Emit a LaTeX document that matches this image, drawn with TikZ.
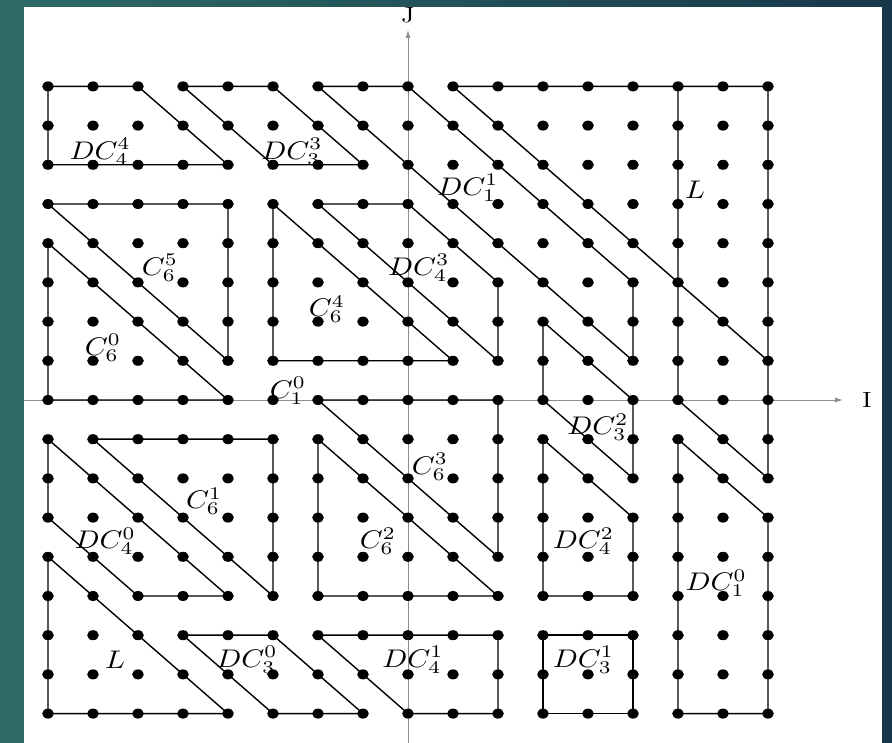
\documentclass[tikz,border=0pt]{standalone}
\usepackage{graphicx}
\usetikzlibrary{arrows.meta}
\definecolor{bgteal}{HTML}{2E6B66}
\definecolor{bgdark}{HTML}{17384A}
\definecolor{axisgray}{HTML}{8E8E8E}
\tikzset{
  tileline/.style={draw=black, line width=1.4pt, line join=round},
  axisline/.style={draw=axisgray, line width=0.9pt},
  lbl/.style={inner sep=0pt},
  axlbl/.style={inner sep=0pt},
  axtip/.style={-{Latex[length=8pt,width=5pt]}},
}
\newcommand{\sxx}[1]{\scalebox{2.927}[2.55]{#1}}
\newcommand{\sxa}[1]{\scalebox{2.53}[2.2]{#1}}
\begin{document}
\begin{tikzpicture}[x=45pt,y=39.2pt]
% background
\fill[left color=bgteal,right color=bgdark] (-9.0667,10.2041) rectangle (10.7556,-8.75);
\useasboundingbox (-9.0667,10.2041) rectangle (10.7556,-8.75);
\fill[white] (-8.5333,10.0255) rectangle (10.5333,-8.75);
% axes
\coordinate (xL) at (-8.5333,0);
\coordinate (xR) at (9.667,0);
\coordinate (yB) at (0,-8.75);
\coordinate (yT) at (0,9.44);
\draw[axisline,axtip] (xL) -- (xR);
\draw[axisline,axtip] (yB) -- (yT);
\node[axlbl] (ilab) at (10.2,0) {\sxa{I}};
\node[axlbl] (jlab) at (0,9.82) {\sxa{J}};
% tiles
\draw[tileline] (-8,8) -- (-6,8) -- (-4,6) -- (-8,6) -- cycle;          % DC_4^4
\draw[tileline] (-5,8) -- (-3,8) -- (-1,6) -- (-3,6) -- cycle;          % DC_3^3
\draw[tileline] (-2,8) -- (0,8) -- (5,3) -- (5,1) -- cycle;             % DC_1^1
\draw[tileline] (1,8) -- (8,8) -- (8,-2) -- (6,0) -- (6,8);             % L (upper right)
\draw[tileline] (1,8) -- (8,1);
\draw[tileline] (-8,5) -- (-4,5) -- (-4,1) -- cycle;                    % C_6^5
\draw[tileline] (-8,4) -- (-8,0) -- (-4,0) -- cycle;                    % C_6^0
\draw[tileline] (-3,5) -- (-3,1) -- (1,1) -- cycle;                     % C_6^4
\draw[tileline] (-2,5) -- (0,5) -- (2,3) -- (2,1) -- cycle;             % DC_4^3
\draw[tileline] (3,2) -- (5,0) -- (5,-2) -- (3,0) -- cycle;             % DC_3^2
\draw[tileline] (-2,0) -- (2,0) -- (2,-4) -- cycle;                     % C_6^3
\draw[tileline] (-7,-1) -- (-3,-1) -- (-3,-5) -- cycle;                 % C_6^1
\draw[tileline] (-8,-1) -- (-4,-5) -- (-6,-5) -- (-8,-3) -- cycle;      % DC_4^0
\draw[tileline] (-2,-1) -- (-2,-5) -- (2,-5) -- cycle;                  % C_6^2
\draw[tileline] (3,-1) -- (5,-3) -- (5,-5) -- (3,-5) -- cycle;          % DC_4^2
\draw[tileline] (6,-1) -- (8,-3) -- (8,-8) -- (6,-8) -- cycle;          % DC_1^0
\draw[tileline] (-8,-4) -- (-4,-8) -- (-8,-8) -- cycle;                 % L (lower left)
\draw[tileline] (-5,-6) -- (-3,-6) -- (-1,-8) -- (-3,-8) -- cycle;      % DC_3^0
\draw[tileline] (-2,-6) -- (2,-6) -- (2,-8) -- (0,-8) -- cycle;         % DC_4^1
\draw[tileline] (3,-6) -- (5,-6) -- (5,-8) -- (3,-8) -- cycle;          % DC_3^1
% lattice points
\foreach \i in {-8,...,8} {
  \foreach \j in {-8,...,8} {
    \fill[black] (\i,\j) ellipse [x radius=5.8pt, y radius=5pt];
  }
}
% labels
\node[lbl] (dc44) at (-6.84,6.33) {\sxx{$DC_4^4$}};
\node[lbl] (dc33) at (-2.58,6.33) {\sxx{$DC_3^3$}};
\node[lbl] (dc11) at (1.33,5.41) {\sxx{$DC_1^1$}};
\node[lbl] (lup) at (6.38,5.36) {\sxx{$L$}};
\node[lbl] (c65) at (-5.51,3.37) {\sxx{$C_6^5$}};
\node[lbl] (dc43) at (0.24,3.37) {\sxx{$DC_4^3$}};
\node[lbl] (c64) at (-1.8,2.32) {\sxx{$C_6^4$}};
\node[lbl] (c60) at (-6.78,1.33) {\sxx{$C_6^0$}};
\node[lbl] (c10) at (-2.67,0.23) {\sxx{$C_1^0$}};
\node[lbl] (dc32) at (4.22,-0.69) {\sxx{$DC_3^2$}};
\node[lbl] (c63) at (0.49,-1.71) {\sxx{$C_6^3$}};
\node[lbl] (c61) at (-4.53,-2.58) {\sxx{$C_6^1$}};
\node[lbl] (dc40) at (-6.73,-3.6) {\sxx{$DC_4^0$}};
\node[lbl] (c62) at (-0.67,-3.6) {\sxx{$C_6^2$}};
\node[lbl] (dc42) at (3.9,-3.6) {\sxx{$DC_4^2$}};
\node[lbl] (dc10) at (6.85,-4.67) {\sxx{$DC_1^0$}};
\node[lbl] (llow) at (-6.51,-6.63) {\sxx{$L$}};
\node[lbl] (dc30) at (-3.58,-6.63) {\sxx{$DC_3^0$}};
\node[lbl] (dc41) at (0.11,-6.63) {\sxx{$DC_4^1$}};
\node[lbl] (dc31) at (3.9,-6.63) {\sxx{$DC_3^1$}};
\end{tikzpicture}
\end{document}
